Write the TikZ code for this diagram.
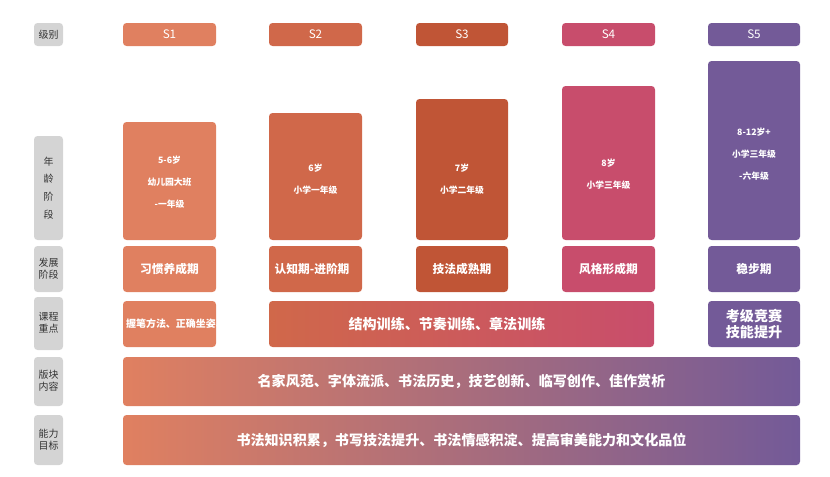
\documentclass[tikz,border=0pt]{standalone}
\usepackage{fontspec}
\setmainfont{Noto Sans CJK SC}
\definecolor{sone}{HTML}{E08060}
\definecolor{stwo}{HTML}{D0684A}
\definecolor{sthree}{HTML}{C05536}
\definecolor{sfour}{HTML}{C84D6C}
\definecolor{sfive}{HTML}{735A98}
\definecolor{lblgray}{HTML}{D4D4D4}
\tikzset{
  cell/.style={rounded corners=3pt},
  txt/.style={text=white,align=center,font=\fontsize{10}{14}\selectfont\bfseries},
  lbl/.style={text=black!80,align=center,font=\fontsize{8.5}{10}\selectfont},
}
\def\tile#1#2#3#4#5{% x1 y1 x2 y2 colour
  \fill[#5,cell] (#1,#2) rectangle (#3,#4);}
\begin{document}
\begin{tikzpicture}[x=0.03cm,y=-0.03cm]
\useasboundingbox (0,0) rectangle (830,477);
% left labels
\tile{34}{23}{63}{46}{lblgray}
\tile{34}{136}{63}{240}{lblgray}
\tile{34}{246}{63}{292}{lblgray}
\tile{34}{297}{63}{350}{lblgray}
\tile{34}{357}{63}{406}{lblgray}
\tile{34}{415}{63}{465}{lblgray}
\node[lbl] (l1) at (48.5,34.5) {级别};
\node[lbl,font=\fontsize{8.5}{15}\selectfont] (l2) at (48.5,188) {年\\龄\\阶\\段};
\node[lbl] (l3) at (48.5,269) {发展\\阶段};
\node[lbl] (l4) at (48.5,323) {课程\\重点};
\node[lbl] (l5) at (48.5,381) {版块\\内容};
\node[lbl] (l6) at (48.5,440) {能力\\目标};
% levels
\tile{123}{23}{216}{46}{sone}
\tile{269}{23}{362}{46}{stwo}
\tile{416}{23}{508}{46}{sthree}
\tile{562}{23}{655}{46}{sfour}
\tile{708}{23}{800}{46}{sfive}
\node[txt,font=\fontsize{10}{12}\selectfont] (s1) at (169.5,34.5) {S1};
\node[txt,font=\fontsize{10}{12}\selectfont] (s2) at (315.5,34.5) {S2};
\node[txt,font=\fontsize{10}{12}\selectfont] (s3) at (462,34.5) {S3};
\node[txt,font=\fontsize{10}{12}\selectfont] (s4) at (608.5,34.5) {S4};
\node[txt,font=\fontsize{10}{12}\selectfont] (s5) at (754,34.5) {S5};
% ages
\tile{123}{122}{216}{240}{sone}
\tile{269}{113}{362}{240}{stwo}
\tile{416}{99}{508}{240}{sthree}
\tile{562}{86}{655}{240}{sfour}
\tile{708}{61}{800}{240}{sfive}
\node[txt,font=\fontsize{7.5}{19}\selectfont\bfseries] (a1) at (169.5,182) {5-6岁\\幼儿园大班\\-一年级};
\node[txt,font=\fontsize{7.5}{19}\selectfont\bfseries] (a2) at (315.5,179) {6岁\\小学一年级};
\node[txt,font=\fontsize{7.5}{19}\selectfont\bfseries] (a3) at (462,179) {7岁\\小学二年级};
\node[txt,font=\fontsize{7.5}{19}\selectfont\bfseries] (a4) at (608.5,174) {8岁\\小学三年级};
\node[txt,font=\fontsize{7.5}{19}\selectfont\bfseries] (a5) at (754,154) {8-12岁+\\小学三年级\\-六年级};
% stages
\tile{123}{246}{216}{292}{sone}
\tile{269}{246}{362}{292}{stwo}
\tile{416}{246}{508}{292}{sthree}
\tile{562}{246}{655}{292}{sfour}
\tile{708}{246}{800}{292}{sfive}
\node[txt] (d1) at (169.5,269) {习惯养成期};
\node[txt,align=left,text width=2.45cm] (d2) at (315.5,269) {认知期-进阶期};
\node[txt] (d3) at (462,269) {技法成熟期};
\node[txt] (d4) at (608.5,269) {风格形成期};
\node[txt] (d5) at (754,269) {稳步期};
% course focus
\tile{123}{301}{216}{347}{sone}
\shade[cell,left color=stwo,right color=sfour] (269,301) rectangle (654,347);
\tile{708}{301}{800}{347}{sfive}
\node[txt,align=left,text width=2.6cm,font=\fontsize{8.5}{10.5}\selectfont\bfseries] (c1) at (169.5,324) {握笔方法、正确坐姿、基础笔画};
\node[txt,font=\fontsize{12}{14}\selectfont\bfseries] (c2) at (447,324) {结构训练、节奏训练、章法训练};
\node[txt,font=\fontsize{12}{14}\selectfont\bfseries] (c5) at (754,324) {考级竞赛\\技能提升};
% banners
\shade[cell,left color=sone,right color=sfive] (123,357) rectangle (800,406);
\shade[cell,left color=sone,right color=sfive] (123,415) rectangle (800,465);
\node[txt,font=\fontsize{12}{14}\selectfont\bfseries] (b1) at (461.5,381.5) {名家风范、字体流派、书法历史，技艺创新、临写创作、佳作赏析};
\node[txt,font=\fontsize{12}{14}\selectfont\bfseries] (b2) at (461.5,440) {书法知识积累，书写技法提升、书法情感积淀、提高审美能力和文化品位};
\end{tikzpicture}
\end{document}
